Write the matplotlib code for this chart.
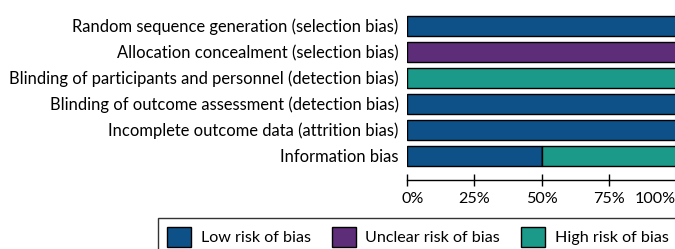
import matplotlib.pyplot as plt
import matplotlib.transforms as mtransforms
import numpy as np
from matplotlib.patches import Patch

plt.rcParams['font.family'] = ['Lato', 'DejaVu Sans']

domains = ["Random sequence generation (selection bias)",
           "Allocation concealment (selection bias)",
           "Blinding of participants and personnel (detection bias)",
           "Blinding of outcome assessment (detection bias)",
           "Incomplete outcome data (attrition bias)",
           "Information bias"]
low = [100, 0, 0, 100, 100, 50]
unclear = [0, 100, 0, 0, 0, 0]
high = [0, 0, 100, 0, 0, 50]
ticks = [0, 25, 50, 75, 100]

c_low = '#0e5189'
c_unc = '#5e2d79'
c_high = '#1b9a8a'

fs = 11.6

fig = plt.figure(figsize=(6.75, 2.49), dpi=100)
ax = fig.add_axes([407/675, 1-180/249, 269/675, (180-12.7)/249])

y = np.arange(len(domains))
h = 0.77
ax.barh(y, low, height=h, color=c_low, edgecolor='black', linewidth=1)
ax.barh(y, unclear, left=low, height=h, color=c_unc, edgecolor='black', linewidth=1)
ax.barh(y, high, left=np.array(low)+np.array(unclear), height=h, color=c_high,
        edgecolor='black', linewidth=1)

ax.set_xlim(0, 100)
ax.set_ylim(5.935, -0.5)
ax.set_yticks(y)
ax.set_yticklabels(domains, fontsize=11.9)
ax.tick_params(axis='y', length=0, pad=6)
ax.set_xticks(ticks)
ax.set_xticklabels([str(t) + '%' for t in ticks], fontsize=fs)
ax.tick_params(axis='x', direction='inout', length=9, width=1, pad=4)
labs = ax.get_xticklabels()
labs[0].set_horizontalalignment('left')
labs[0].set_transform(labs[0].get_transform() +
                      mtransforms.ScaledTranslation(-5/100, 0, fig.dpi_scale_trans))
labs[-1].set_horizontalalignment('right')
for s in ['top', 'right', 'left']:
    ax.spines[s].set_visible(False)
ax.spines['bottom'].set_linewidth(1)

handles = [Patch(facecolor=c_low, edgecolor='black', label='Low risk of bias'),
           Patch(facecolor=c_unc, edgecolor='black', label='Unclear risk of bias'),
           Patch(facecolor=c_high, edgecolor='black', label='High risk of bias')]
leg = fig.legend(handles=handles, ncol=3, loc='upper left',
                 bbox_to_anchor=(158/675, 1-218/249), fontsize=fs,
                 fancybox=False, edgecolor='black', handlelength=1.5,
                 handleheight=1.5, columnspacing=1.3, handletextpad=0.6,
                 borderpad=0.55, borderaxespad=0)
leg.get_frame().set_linewidth(1)

fig.savefig('out.png', dpi=100)
